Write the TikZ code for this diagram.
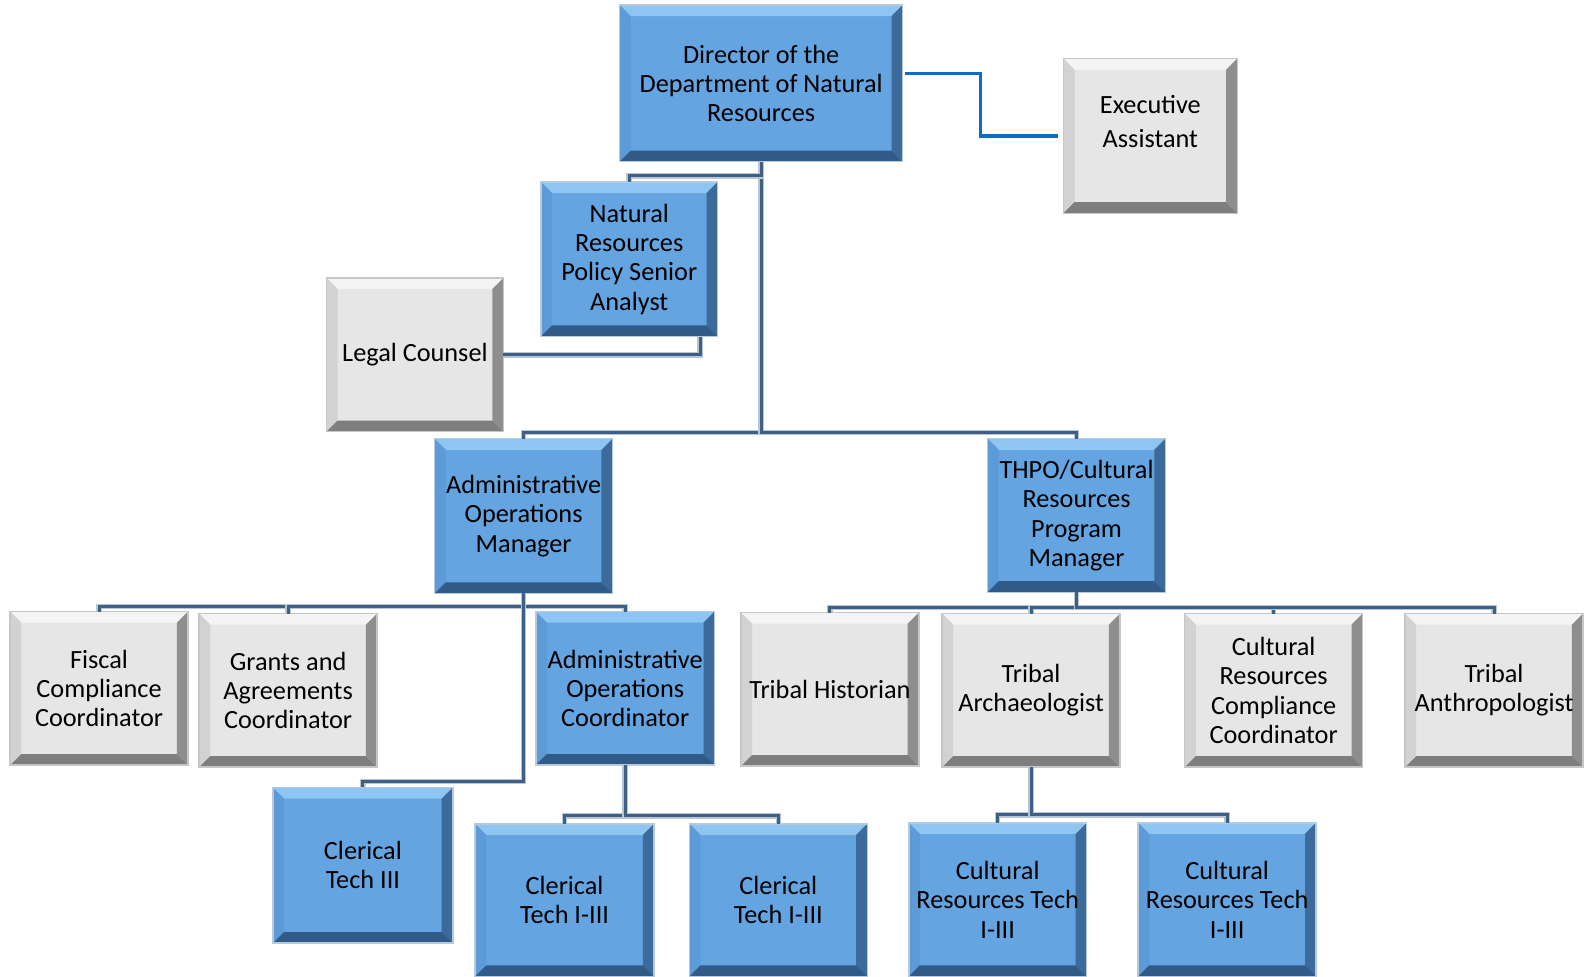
\documentclass[tikz,border=0pt]{standalone}
\usepackage{fontspec}
\setmainfont{Carlito}
\definecolor{bface}{HTML}{63A4E1}
\definecolor{btop}{HTML}{8FC5F2}
\definecolor{bleft}{HTML}{5C9BD8}
\definecolor{bright}{HTML}{3C6B9B}
\definecolor{bbot}{HTML}{305B88}
\definecolor{gface}{HTML}{E6E6E6}
\definecolor{gtop}{HTML}{F4F4F4}
\definecolor{gleft}{HTML}{D2D2D2}
\definecolor{gright}{HTML}{8E8E8E}
\definecolor{gbot}{HTML}{7E7E7E}
\definecolor{connc}{HTML}{3E5F86}
\definecolor{conne}{HTML}{B9C5D2}
\definecolor{eaconn}{HTML}{0A6FC2}
\newlength\bw \setlength\bw{11pt}
\tikzset{
  bevel/.style n args={4}{path picture={
    \fill[#1] (path picture bounding box.north west) -- (path picture bounding box.north east)
      -- ([xshift=-\bw,yshift=-\bw]path picture bounding box.north east)
      -- ([xshift=\bw,yshift=-\bw]path picture bounding box.north west) -- cycle;
    \fill[#2] (path picture bounding box.north west) -- (path picture bounding box.south west)
      -- ([xshift=\bw,yshift=\bw]path picture bounding box.south west)
      -- ([xshift=\bw,yshift=-\bw]path picture bounding box.north west) -- cycle;
    \fill[#3] (path picture bounding box.north east) -- (path picture bounding box.south east)
      -- ([xshift=-\bw,yshift=\bw]path picture bounding box.south east)
      -- ([xshift=-\bw,yshift=-\bw]path picture bounding box.north east) -- cycle;
    \fill[#4] (path picture bounding box.south west) -- (path picture bounding box.south east)
      -- ([xshift=-\bw,yshift=\bw]path picture bounding box.south east)
      -- ([xshift=\bw,yshift=\bw]path picture bounding box.south west) -- cycle;
  }},
  boxbase/.style={rectangle, inner sep=0pt, outer sep=0pt, align=center,
    minimum width=176pt, minimum height=152pt, line width=1.5pt,
    font=\fontsize{26}{29}\selectfont, text=black},
  bluebox/.style={boxbase, fill=bface, draw=bface!60!gray!50, bevel={btop}{bleft}{bright}{bbot}},
  graybox/.style={boxbase, fill=gface, draw=gray!45, bevel={gtop}{gleft}{gright}{gbot}},
  conn/.style={draw=connc, line width=3pt, preaction={draw=conne, line width=5.5pt}},
  eaconn/.style={draw=eaconn, line width=3.5pt},
}
\begin{document}
\begin{tikzpicture}[x=1pt,y=-1pt]
\useasboundingbox (0,0) rectangle (1568,966.5);

% nodes
\node[bluebox, minimum width=280pt, minimum height=155pt] (dir) at (753,82.5) {Director of the\\Department of Natural\\Resources};
\node[graybox, minimum width=172pt, minimum height=153pt] (ea) at (1138,134.5)
  {\raisebox{11pt}[\height][\depth]{\begin{tabular}{@{}c@{}}Executive\\[5pt]Assistant\end{tabular}}};
\node[bluebox, minimum width=175pt, minimum height=153pt] (nrpsa) at (622.5,256.5) {Natural\\Resources\\Policy Senior\\Analyst};
\node[graybox, minimum width=175pt] (legal) at (410.5,351) {Legal Counsel};
\node[bluebox, minimum height=153pt] (aom) at (518,510.5) {Administrative\\Operations\\Manager};
\node[bluebox] (thpo) at (1065,510) {THPO/Cultural\\Resources\\Program\\Manager};

\node[graybox] (fiscal) at (98,681) {Fiscal\\Compliance\\Coordinator};
\node[graybox] (grants) at (285,683) {Grants and\\Agreements\\Coordinator};
\node[bluebox, minimum width=177pt] (aoc) at (618.5,681) {Administrative\\Operations\\Coordinator};
\node[graybox] (hist) at (821,682) {Tribal Historian};
\node[graybox] (arch) at (1020,683) {Tribal\\Archaeologist};
\node[graybox] (crcc) at (1260,683) {Cultural\\Resources\\Compliance\\Coordinator};
\node[graybox] (anth) at (1478,683) {Tribal\\Anthropologist};

\node[bluebox, minimum width=178pt, minimum height=154pt] (ct3) at (359,856) {Clerical\\Tech III};
\node[bluebox, minimum width=177pt, minimum height=151pt] (ct1) at (558.5,890.5) {Clerical\\Tech I-III};
\node[bluebox, minimum height=151pt] (ct2) at (770,890.5) {Clerical\\Tech I-III};
\node[bluebox] (crt1) at (987,890) {Cultural\\Resources Tech\\I-III};
\node[bluebox] (crt2) at (1214,890) {Cultural\\Resources Tech\\I-III};

% connectors
\path[conn] (dir.south) -- ++(0,268) -| (aom.north);
\path[conn] (dir.south) -- ++(0,268) -| (thpo.north);
\path[conn] (dir.south) -- ++(0,14) -| (nrpsa.north);
\path[conn] (legal.east) -| ([xshift=70pt]nrpsa.south);
\draw[eaconn, shorten <=2pt, shorten >=5pt] ([yshift=10pt]dir.east) -- ++(77,0) |- (ea.west);

\path[conn] (aom.south) -- ++(0,13) -| (fiscal.north);
\path[conn] (aom.south) -- ++(0,13) -| (grants.north);
\path[conn] (aom.south) -- ++(0,13) -| (aoc.north);
\path[conn] (aom.south) -- ++(0,186) -| (ct3.north);

\path[conn] (aoc.south) -- ++(0,50) -| (ct1.north);
\path[conn] (aoc.south) -- ++(0,50) -| (ct2.north);

\path[conn] (thpo.south) -- ++(0,15) -| (hist.north);
\path[conn] (thpo.south) -- ++(0,15) -| (arch.north);
\path[conn] (thpo.south) -- ++(0,15) -| (crcc.north);
\path[conn] (thpo.south) -- ++(0,15) -| (anth.north);

\path[conn] (arch.south) -- ++(0,47) -| (crt1.north);
\path[conn] (arch.south) -- ++(0,47) -| (crt2.north);
\end{tikzpicture}
\end{document}
